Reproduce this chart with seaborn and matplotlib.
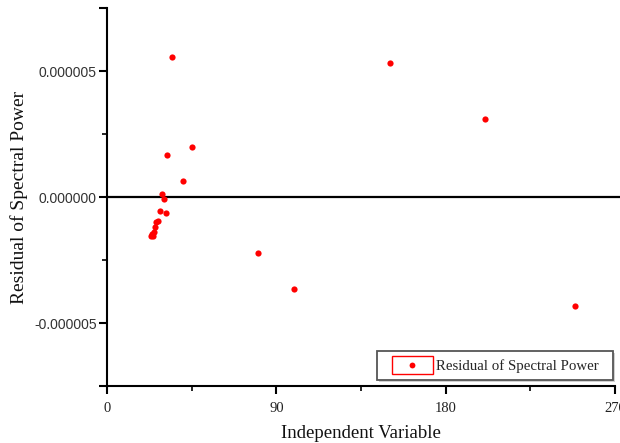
import matplotlib
matplotlib.use("Agg")
import matplotlib.pyplot as plt
from matplotlib.patches import Rectangle
from matplotlib.lines import Line2D
from matplotlib.ticker import FixedLocator, FuncFormatter
import seaborn as sns
import pandas as pd

# Residuals of the spectral power fit against the independent variable
independent = [23.5, 24.1, 24.3, 24.8, 25.4, 26.0, 26.9, 28.0, 29.2, 30.3,
               31.2, 32.0, 34.5, 40.4, 45.0, 80.2, 99.4, 150.4, 200.9, 248.7]
residual = [-1.54e-6, -1.47e-6, -1.56e-6, -1.37e-6, -1.21e-6, -1.01e-6, -0.95e-6,
            -0.55e-6, 0.10e-6, -0.07e-6, -0.63e-6, 1.65e-6, 5.56e-6, 0.65e-6,
            1.97e-6, -2.22e-6, -3.65e-6, 5.32e-6, 3.10e-6, -4.33e-6]

x_major = [0, 90, 180, 270]
x_minor = [45, 135, 225]
y_major = [-7.5e-6, -5e-6, 0.0, 5e-6, 7.5e-6]
y_minor = [-2.5e-6, 2.5e-6]
y_labelled = [-5e-6, 0.0, 5e-6]

series_name = "Residual of Spectral Power"
df = pd.DataFrame({"x": independent, "y": residual})

sns.set_style("ticks")
plt.rcParams["font.family"] = ["Liberation Serif", "DejaVu Serif"]

fig = plt.figure(figsize=(6.2, 4.43), dpi=100)
ax = fig.add_axes([107 / 620, 1 - 386 / 443, 508 / 620, 378 / 443])

sns.scatterplot(data=df, x="x", y="y", ax=ax, color="#ff0000", s=20,
                linewidth=0, legend=False, zorder=3)

# zero reference line, running slightly past the right end of the axis
ax.axhline(0, xmax=1.012, color="black", linewidth=1.6, zorder=2, clip_on=False)

ax.set_xlim(0, 270)
ax.set_ylim(-7.5e-6, 7.5e-6)

ax.xaxis.set_major_locator(FixedLocator(x_major))
ax.xaxis.set_minor_locator(FixedLocator(x_minor))
ax.yaxis.set_major_locator(FixedLocator(y_major))
ax.yaxis.set_minor_locator(FixedLocator(y_minor))
ax.yaxis.set_major_formatter(FuncFormatter(
    lambda v, _: (f"{v:.6f}" if any(abs(v - t) < 1e-9 for t in y_labelled) else "")))

for sp in ["top", "right"]:
    ax.spines[sp].set_visible(False)
for sp in ["left", "bottom"]:
    ax.spines[sp].set_linewidth(1.5)
    ax.spines[sp].set_color("black")

ax.tick_params(axis="both", which="major", direction="out", length=6, width=1.5,
               color="black")
ax.tick_params(axis="both", which="minor", direction="out", length=3.5, width=1.2,
               color="black")
ax.tick_params(axis="x", labelsize=10.5, pad=5.5, labelcolor="#222222")
ax.tick_params(axis="y", labelsize=10, pad=1.5, labelcolor="#333333")
for lbl in ax.get_yticklabels():
    lbl.set_family(["Liberation Sans", "DejaVu Sans"])

ax.set_xlabel("Independent Variable", fontsize=13.5, labelpad=7, color="#111111")
ax.set_ylabel("Residual of Spectral Power", fontsize=14, labelpad=4, color="#111111")


class BoxDotHandler:
    """Legend key: an open red box with a red dot centred in it."""

    def legend_artist(self, legend, orig_handle, fontsize, handlebox):
        x0, y0 = -handlebox.xdescent, -handlebox.ydescent
        w, h = handlebox.width, handlebox.height
        rect = Rectangle((x0, y0), w, h, facecolor="none", edgecolor="#ff0000",
                         linewidth=1.0, transform=handlebox.get_transform())
        dot = Line2D([x0 + w / 2], [y0 + h / 2], linestyle="none", marker="o",
                     markersize=4.2, markerfacecolor="#ff0000", markeredgewidth=0,
                     transform=handlebox.get_transform())
        handlebox.add_artist(rect)
        handlebox.add_artist(dot)
        return rect


key = object()
leg = ax.legend([key], [series_name],
                handler_map={object: BoxDotHandler()},
                loc="lower right", bbox_to_anchor=(0.978, 0.017),
                borderaxespad=0, frameon=False,
                fontsize=10.7, handlelength=2.76, handleheight=1.5,
                handletextpad=0.2, borderpad=0.36)
leg.set_zorder(5)

# Legend frame with wider side margins than top/bottom, plus a soft drop shadow
fig.canvas.draw()
bb = leg.get_window_extent()
side = 9.5
to_axes = ax.transAxes.inverted()
(ax0, ay0), (ax1, ay1) = to_axes.transform([(bb.x0 - side, bb.y0), (bb.x1 + side, bb.y1)])
(sx, sy), _ = to_axes.transform([(bb.x0 - side + 2, bb.y0 - 2), (0, 0)])
ax.add_patch(Rectangle((sx, sy), ax1 - ax0, ay1 - ay0, transform=ax.transAxes,
                       facecolor="0.82", edgecolor="none", zorder=3.9, clip_on=False))
ax.add_patch(Rectangle((ax0, ay0), ax1 - ax0, ay1 - ay0, transform=ax.transAxes,
                       facecolor="white", edgecolor="#555555", linewidth=1.3,
                       zorder=4, clip_on=False))

fig.savefig("out.png", dpi=100)
